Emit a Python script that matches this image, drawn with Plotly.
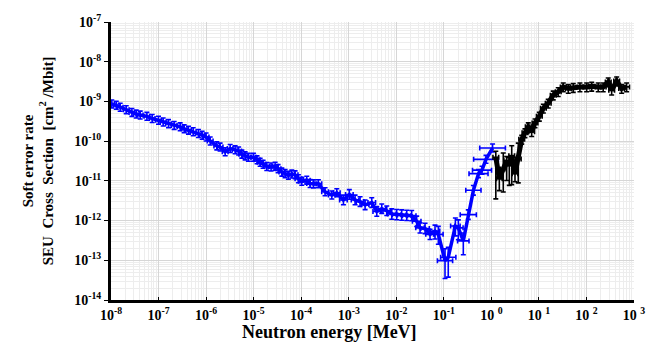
import numpy as np
import plotly.graph_objects as go

# ---- Blue series (thermal / epithermal neutrons) ----
blue_energy = [1.04e-8, 1.29e-8, 1.56e-8, 2.09e-8, 2.75e-8, 3.39e-8, 4.11e-8, 5.69e-8, 7.35e-8, 9.98e-8,
               1.25e-7, 1.62e-7, 2.13e-7, 2.85e-7, 3.46e-7, 4.26e-7, 5.35e-7, 6.90e-7, 8.26e-7, 1.00e-6,
               1.22e-6, 1.68e-6, 1.97e-6, 2.52e-6, 3.21e-6, 4.08e-6, 4.84e-6, 5.65e-6, 6.62e-6, 7.76e-6,
               9.91e-6, 1.18e-5, 1.37e-5, 1.58e-5, 1.89e-5, 2.33e-5, 2.83e-5, 3.27e-5, 3.92e-5, 4.59e-5,
               5.38e-5, 6.35e-5, 7.45e-5, 8.75e-5, 1.03e-4, 1.31e-4, 1.54e-4, 1.81e-4, 2.30e-4, 3.18e-4,
               4.41e-4, 5.61e-4, 7.73e-4, 1.03e-3, 1.36e-3, 1.73e-3, 2.21e-3, 3.05e-3, 3.89e-3, 4.95e-3,
               6.31e-3, 8.04e-3, 1.02e-2, 1.30e-2, 1.66e-2, 2.11e-2, 2.69e-2, 3.16e-2, 4.03e-2, 5.13e-2,
               6.53e-2, 7.67e-2, 1.06e-1, 1.24e-1, 1.75e-1, 2.02e-1, 2.57e-1, 3.27e-1, 4.19e-1, 5.37e-1,
               6.36e-1, 7.71e-1, 1.06]
blue_sigma = [8.63e-10, 8.00e-10, 7.14e-10, 6.19e-10, 5.28e-10, 4.80e-10, 4.53e-10, 4.21e-10, 3.71e-10, 3.35e-10,
              3.04e-10, 2.76e-10, 2.49e-10, 2.29e-10, 2.04e-10, 1.89e-10, 1.72e-10, 1.56e-10, 1.41e-10, 1.27e-10,
              1.01e-10, 7.60e-11, 7.10e-11, 5.41e-11, 6.52e-11, 6.05e-11, 5.65e-11, 4.71e-11, 4.26e-11, 3.91e-11,
              3.91e-11, 3.39e-11, 2.94e-11, 2.62e-11, 2.30e-11, 2.23e-11, 2.34e-11, 2.03e-11, 1.66e-11, 1.52e-11,
              1.38e-11, 1.48e-11, 1.42e-11, 1.13e-11, 9.77e-12, 1.04e-11, 8.60e-12, 8.40e-12, 8.50e-12, 5.31e-12,
              4.41e-12, 5.01e-12, 3.31e-12, 4.55e-12, 3.31e-12, 3.01e-12, 2.49e-12, 2.84e-12, 1.70e-12, 1.98e-12,
              1.77e-12, 1.46e-12, 1.41e-12, 1.38e-12, 1.35e-12, 1.33e-12, 9.60e-13, 6.56e-13, 6.34e-13, 4.50e-13,
              5.43e-13, 4.50e-13, 9.80e-14, 1.19e-13, 7.31e-13, 6.56e-13, 3.08e-13, 1.41e-12, 5.78e-12, 1.52e-11,
              1.86e-11, 3.48e-11, 6.71e-11]
# vertical error (decades, up / down) and horizontal error (decades)
blue_err_up = [0.1] * 43 + [0.1] * 9 + [0.12] * 9 + [0.13] * 9 + [0.15, 0.2, 0.3, 0.25, 0.2, 0.2, 0.2, 0.12, 0.12, 0.1,
                                                                0.1, 0.1, 0.1]
blue_err_down = [0.1] * 43 + [0.1] * 9 + [0.12] * 9 + [0.13] * 9 + [0.2, 0.25, 0.45, 0.5, 0.25, 0.3, 0.35, 0.12, 0.12, 0.1,
                                                                  0.1, 0.1, 0.1]
blue_err_e = [0.06] * 43 + [0.07] * 9 + [0.08] * 9 + [0.09] * 9 + [0.1, 0.1, 0.16, 0.16, 0.1, 0.1, 0.12, 0.17, 0.16, 0.2,
                                                                  0.2, 0.26, 0.27]

# ---- Black series (fast neutrons) ----
black_energy = [1.24, 1.47, 1.78, 2.10, 2.38, 2.68, 3.14, 3.68, 4.35, 5.09,
                5.98, 7.05, 8.28, 10.2, 12.4, 15.7, 20.0, 25.5, 32.5, 41.5,
                52.8, 72.9, 101, 129, 177, 225, 287, 339, 432, 550, 700]
black_sigma = [3.94e-11, 1.13e-11, 2.00e-11, 3.24e-11, 2.43e-11, 4.31e-11, 1.51e-11, 3.55e-11, 1.11e-10, 1.62e-10,
               2.29e-10, 1.72e-10, 2.87e-10, 4.21e-10, 6.75e-10, 8.97e-10, 1.44e-9, 1.75e-9, 2.32e-9, 2.11e-9,
               2.23e-9, 2.32e-9, 2.32e-9, 2.40e-9, 2.32e-9, 2.32e-9, 3.09e-9, 1.91e-9, 3.27e-9, 2.11e-9, 2.32e-9]
black_err_up = [0.15, 0.1, 0.4, 0.1, 0.2, 0.25, 0.15, 0.4] + [0.1] * 23
black_err_down = [1.05, 0.3, 0.58, 0.5, 0.5, 0.73, 0.2, 0.6] + [0.12] * 23
black_err_e = [0.06] * 31

x_tick_vals = [1e-8, 1e-7, 1e-6, 1e-5, 1e-4, 1e-3, 1e-2, 1e-1, 1e0, 1e1, 1e2, 1e3]
x_tick_text = ["10<sup>-8</sup>", "10<sup>-7</sup>", "10<sup>-6</sup>", "10<sup>-5</sup>", "10<sup>-4</sup>",
               "10<sup>-3</sup>", "10<sup>-2</sup>", "10<sup>-1</sup>", "10 <sup>0</sup>", "10 <sup>1</sup>",
               "10 <sup>2</sup>", "10 <sup>3</sup>"]
y_tick_vals = [1e-14, 1e-13, 1e-12, 1e-11, 1e-10, 1e-9, 1e-8, 1e-7]
y_tick_text = ["10<sup>-14</sup>", "10<sup>-13</sup>", "10<sup>-12</sup>", "10<sup>-11</sup>", "10<sup>-10</sup>",
               "10<sup>-9</sup>", "10<sup>-8</sup>", "10<sup>-7</sup>"]


def errs(vals, up, down):
    v = np.array(vals)
    return (v * (10 ** np.array(up) - 1)).tolist(), (v * (1 - 10 ** (-np.array(down)))).tolist()


FONT = "Liberation Serif"

fig = go.Figure()
for E, S, eu, ed, ee, col, lw, ew in [
    (blue_energy, blue_sigma, blue_err_up, blue_err_down, blue_err_e, "#0000ff", 3.5, 1.6),
    (black_energy, black_sigma, black_err_up, black_err_down, black_err_e, "#000000", 5, 1.6),
]:
    yp, ym = errs(S, eu, ed)
    xp, xm = errs(E, ee, ee)
    fig.add_trace(go.Scatter(
        x=E, y=S, mode="lines",
        line=dict(color=col, width=lw),
        error_y=dict(type="data", symmetric=False, array=yp, arrayminus=ym,
                     color=col, thickness=ew, width=2.5),
        error_x=dict(type="data", symmetric=False, array=xp, arrayminus=xm,
                     color=col, thickness=ew, width=2.5),
        showlegend=False,
    ))

fig.update_layout(
    width=663, height=352,
    margin=dict(l=111, r=29, t=17, b=52),
    paper_bgcolor="white", plot_bgcolor="white",
    font=dict(family=FONT, color="black"),
    xaxis=dict(
        type="log", range=[-8, 3],
        tickmode="array", tickvals=x_tick_vals, ticktext=x_tick_text,
        tickfont=dict(family=FONT, size=14, weight="bold", color="black"),
        showgrid=True, gridcolor="#d6d6d6", gridwidth=1,
        minor=dict(showgrid=True, gridcolor="#ededed", dtick="D1", ticks=""),
        showline=True, linecolor="black", linewidth=3,
        ticks="inside", ticklen=3, tickcolor="black",
        zeroline=False,
    ),
    yaxis=dict(
        type="log", range=[-14, -7],
        tickmode="array", tickvals=y_tick_vals, ticktext=y_tick_text,
        tickfont=dict(family=FONT, size=14, weight="bold", color="black"),
        showgrid=True, gridcolor="#d6d6d6", gridwidth=1,
        minor=dict(showgrid=True, gridcolor="#ededed", dtick="D1", ticks=""),
        showline=True, linecolor="black", linewidth=3,
        ticks="outside", ticklen=4, tickcolor="black",
        zeroline=False,
    ),
    annotations=[
        dict(text="Neutron energy [MeV]", xref="paper", yref="paper", x=0.417, y=-0.115,
             xanchor="center", yanchor="middle", showarrow=False,
             font=dict(family=FONT, size=18, weight="bold", color="black")),
        dict(text="Soft error rate<br>SEU  Cross  Section  [cm<sup>2</sup> /Mbit]", xref="paper", yref="paper",
             x=-0.139, y=0.5, xanchor="center", yanchor="middle", textangle=-90, showarrow=False,
             font=dict(family=FONT, size=15, weight="bold", color="black")),
    ],
)

fig.write_html("out.html")
